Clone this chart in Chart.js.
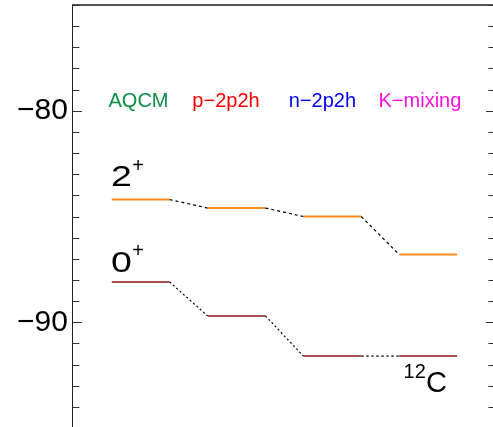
<!DOCTYPE html>
<html>
<head>
<meta charset="utf-8">
<script src="https://cdn.jsdelivr.net/npm/chart.js@4/dist/chart.umd.min.js"></script>
<style>
  html, body { margin: 0; padding: 0; background: #fff; overflow: hidden; }
  #wrap { width: 500px; height: 432px; }
</style>
</head>
<body>
<div id="wrap"><canvas id="c" width="500" height="432"></canvas></div>
<script>
// ---- data ----
const categories = ['AQCM', 'p\u22122p2h', 'n\u22122p2h', 'K\u2212mixing'];
const categoryColors = ['#0a8f45', '#ff0000', '#0000ff', '#ff10e0'];
const levels2plus = [-84.2, -84.6, -85.0, -86.8];
const levels0plus = [-88.1, -89.7, -91.6, -91.6];
const yTickLabels = [-90, -80];
const yMin = -95, yMax = -75;

// ---- style ----
const HW = 0.302;           // half width of a level bar (x units)
const color2 = '#ff8c1a';
const color0 = '#a8504c';
const FONT = '"Liberation Sans", Arial, Helvetica, sans-serif';

function levelDatasets(vals, col) {
  return vals.map((v, i) => ({
    data: [{x: i - HW, y: v}, {x: i + HW, y: v}],
    borderColor: col, borderWidth: 2, pointRadius: 0, fill: false
  }));
}
function connectorDatasets(vals, dash) {
  const out = [];
  for (let i = 0; i < vals.length - 1; i++) {
    const same = Math.abs(vals[i] - vals[i + 1]) < 1e-9;
    out.push({
      data: [{x: i + HW, y: vals[i]}, {x: i + 1 - HW, y: vals[i + 1]}],
      borderColor: same ? '#555' : '#000', borderWidth: same ? 1.8 : 1.2,
      borderDash: same ? [2.5, 2.5] : dash, pointRadius: 0, fill: false
    });
  }
  return out;
}

const datasets = [
  ...connectorDatasets(levels2plus, [3, 3]),
  ...connectorDatasets(levels0plus, [2, 2.5]),
  ...levelDatasets(levels2plus, color2),
  ...levelDatasets(levels0plus, color0)
];

const decor = {
  id: 'decor',
  afterDraw(chart) {
    const ctx = chart.ctx;
    const xs = chart.scales.x, ys = chart.scales.y;
    const a = chart.chartArea;
    ctx.save();
    // inward ticks on left and right
    ctx.strokeStyle = '#333';
    ctx.lineWidth = 1;
    for (let v = yMin; v <= yMax; v++) {
      const y = Math.round(ys.getPixelForValue(v)) + 0.5;
      const major = v % 10 === 0;
      const len = major ? 9 : 6.5;
      ctx.beginPath();
      ctx.moveTo(a.left, y); ctx.lineTo(a.left + len, y);
      ctx.moveTo(a.right, y); ctx.lineTo(a.right - len, y);
      ctx.stroke();
    }
    // category labels
    ctx.font = '20px ' + FONT;
    ctx.textBaseline = 'alphabetic';
    ctx.textAlign = 'left';
    const labelX = [-0.336, 0.539, 1.545, 2.482];
    categories.forEach((c, i) => {
      ctx.fillStyle = categoryColors[i];
      ctx.fillText(c, xs.getPixelForValue(labelX[i]), ys.getPixelForValue(-79.8));
    });
    // J^pi labels
    ctx.fillStyle = '#000';
    function jlabel(txt, xv, yv, supDy) {
      const px = xs.getPixelForValue(xv), py = ys.getPixelForValue(yv);
      ctx.save();
      ctx.translate(px, py);
      ctx.scale(1.25, 1);
      ctx.font = '30px ' + FONT;
      ctx.fillText(txt, 0, 0);
      const w = ctx.measureText(txt).width;
      ctx.restore();
      ctx.font = '20px ' + FONT;
      ctx.fillText('+', px + w * 1.25 + 0.5, py + supDy);
    }
    jlabel('2', -0.31, levels2plus[0] + 0.64, -13.7);
    jlabel('0', -0.31, levels0plus[0] + 0.49, -14.4);
    // 12C
    ctx.font = '20px ' + FONT;
    const cx = xs.getPixelForValue(2.743), cy = ys.getPixelForValue(-93.3);
    ctx.fillText('12', cx, cy - 14.5);
    ctx.font = '29px ' + FONT;
    ctx.fillText('C', cx + 22.5, cy);
    ctx.restore();
  }
};

new Chart(document.getElementById('c'), {
  type: 'line',
  data: { datasets },
  options: {
    responsive: false,
    animation: false,
    devicePixelRatio: 1,
    layout: { padding: { left: 12, top: 5, right: 5, bottom: 4 } },
    plugins: { legend: { display: false }, tooltip: { enabled: false } },
    scales: {
      x: {
        type: 'linear', position: 'top', min: -0.708, max: 3.698,
        ticks: { display: false },
        grid: { drawOnChartArea: false, drawTicks: false },
        border: { display: true, color: '#555', width: 2 }
      },
      y: {
        type: 'linear', position: 'left', min: yMin, max: yMax,
        afterBuildTicks: s => { s.ticks = yTickLabels.map(v => ({ value: v })); },
        afterFit: s => { s.paddingTop = 0; s.paddingBottom = 0; },
        ticks: {
          color: '#000', padding: 5,
          font: { size: 30, family: FONT },
          callback: v => String(v).replace('-', '\u2212')
        },
        grid: { drawOnChartArea: false, drawTicks: false },
        border: { display: true, color: '#222', width: 1 }
      }
    }
  },
  plugins: [decor]
});
</script>
</body>
</html>
